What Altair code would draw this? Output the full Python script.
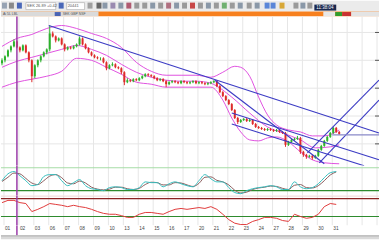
import altair as alt
import pandas as pd

W = 380
BARS_PER_DAY = 5

day_labels = ["01", "02", "03", "06", "07", "08", "09", "10", "13", "14", "15", "16",
              "17", "20", "21", "22", "23", "24", "27", "28", "29", "30", "31"]

opens = [103, 106, 110, 116, 120, 125, 119, 116, 121, 114,
         106, 90, 101, 106, 110, 114, 117, 133, 130, 126,
         128, 122, 117, 119, 118, 120, 122, 128, 122, 118,
         114, 111, 109, 108, 108, 104, 98, 101, 102, 99,
         98, 94, 84, 86, 85, 87, 86, 88, 90, 92,
         91, 90, 88, 86, 87, 85, 82, 84, 85, 84,
         83, 85, 84, 83, 84, 85, 83, 84, 83, 82,
         83, 84, 85, 80, 74, 70, 66, 62, 56, 48,
         44, 46, 47, 45, 46, 42, 39, 38, 37, 36,
         37, 36, 35, 36, 34, 33, 21, 24, 26, 27,
         28, 14, 11, 9, 10, 8, 10, 16, 20, 25,
         29, 33, 38, 34]
closes = [106, 110, 116, 120, 125, 119, 116, 121, 114, 106,
          90, 101, 106, 110, 114, 117, 133, 130, 126, 128,
          122, 117, 119, 118, 120, 122, 128, 122, 118, 114,
          111, 109, 108, 108, 104, 98, 101, 102, 99, 98,
          94, 84, 86, 85, 87, 86, 88, 90, 92, 91,
          90, 88, 86, 87, 85, 82, 84, 85, 84, 83,
          85, 84, 83, 84, 85, 83, 84, 83, 82, 83,
          84, 85, 80, 74, 70, 66, 62, 56, 48, 44,
          46, 47, 45, 46, 42, 39, 38, 37, 36, 37,
          36, 35, 36, 34, 33, 21, 24, 26, 27, 28,
          14, 11, 9, 10, 8, 10, 16, 20, 25, 29,
          33, 38, 34, 32]
highs = [108, 111, 117, 121, 127, 126, 120, 122, 122, 115,
         107, 102, 107, 111, 115, 118, 141, 135, 131, 129,
         129, 123, 120, 120, 121, 123, 130, 129, 123, 119,
         115, 112, 110, 109, 109, 105, 102, 104, 103, 100,
         99, 95, 88, 87, 88, 88, 89, 91, 93, 93,
         92, 91, 89, 88, 88, 86, 85, 86, 86, 85,
         86, 86, 85, 85, 86, 86, 85, 85, 84, 84,
         85, 86, 86, 81, 75, 71, 67, 63, 57, 49,
         47, 48, 48, 47, 47, 43, 40, 39, 38, 38,
         38, 37, 37, 37, 35, 34, 25, 27, 28, 30,
         29, 15, 12, 11, 11, 11, 17, 21, 26, 30,
         34, 39, 39, 35]
lows = [101, 104, 109, 114, 119, 118, 114, 115, 113, 104,
        84, 88, 99, 104, 109, 112, 115, 129, 124, 125,
        121, 115, 116, 117, 117, 119, 121, 121, 117, 113,
        110, 108, 107, 106, 103, 96, 97, 100, 98, 97,
        92, 81, 83, 84, 84, 85, 85, 87, 89, 90,
        89, 87, 85, 85, 84, 79, 81, 83, 83, 82,
        82, 83, 82, 82, 83, 82, 82, 82, 81, 81,
        82, 83, 79, 73, 69, 65, 61, 55, 47, 42,
        43, 45, 44, 44, 41, 38, 37, 36, 35, 35,
        35, 34, 34, 33, 32, 19, 20, 23, 25, 26,
        12, 9, 7, 8, 6, 7, 9, 15, 19, 24,
        28, 32, 33, 31]

upper_t = [0, 5, 10, 15, 20, 25, 30, 35, 40, 45, 50, 55, 60, 65, 70, 74, 78, 80, 83, 86,
           89, 92, 96, 100, 104, 108, 113]
upper = [120, 128, 132, 138, 141, 138, 133, 128, 119, 104, 95, 91, 91, 91, 89, 94, 100, 99, 90, 69,
         51, 41, 36, 34, 30, 30, 36]
mid_t = [0, 5, 10, 15, 20, 25, 30, 35, 40, 45, 50, 55, 60, 65, 70, 72, 77, 83, 89, 94,
         100, 105, 110, 113]
mid = [99, 105, 109, 113, 117, 121, 117, 111, 102, 94, 89, 86, 85, 85, 83, 80, 69, 53, 39, 33,
       26, 18, 19, 21]
lower_t = [0, 5, 10, 15, 20, 25, 30, 35, 40, 45, 50, 55, 60, 65, 70, 74, 77, 80, 83, 86,
           89, 92, 96, 100, 104, 108, 113]
lower = [79, 84, 87, 90, 95, 108, 106, 99, 92, 84, 82, 79, 79, 79, 79, 66, 48, 34, 26, 25,
         28, 29, 24, 14, 6, 3, 2]

# drawn lines: start/end in (bar index, price)
tl_t1 = [15.67, 71.33, 77.0, 77.0, 102.33, 106.33, 110.67]
tl_p1 = [141, 86, 53, 42, 13, 3, 31]
tl_t2 = [126.33, 108.0, 126.33, 121.33, 126.33, 126.33, 126.33]
tl_p2 = [33, 2, 6, 0, 86, 66, 31]
tl_kind = ["trend", "trend", "trend", "trend", "trend", "trend", "level"]

price_grid = [134, 106, 78, 50, 22]
marker_t = [5]

osc_t = list(range(0, 113, 2))
stoch_k = [46, 64, 70, 59, 46, 33, 36, 57, 62, 62, 46, 33, 41, 49, 33, 25, 23, 20, 28, 30,
           28, 23, 23, 28, 43, 41, 41, 30, 38, 43, 38, 33, 30, 46, 62, 51, 43, 43, 28, 15,
           12, 20, 25, 28, 30, 33, 30, 23, 23, 43, 30, 25, 28, 38, 54, 67, 70]
stoch_d = [44, 55, 66, 64, 52, 40, 36, 46, 58, 62, 54, 40, 38, 45, 40, 29, 24, 22, 24, 29,
           29, 25, 23, 26, 36, 42, 41, 35, 35, 41, 40, 35, 31, 39, 55, 56, 47, 43, 35, 21,
           14, 16, 23, 27, 29, 32, 31, 26, 23, 34, 36, 28, 27, 33, 46, 61, 69]
rsi = [61, 66, 66, 61, 59, 41, 46, 52, 59, 57, 55, 52, 55, 52, 50, 46, 41, 37, 35, 35,
       32, 28, 28, 35, 39, 39, 37, 35, 41, 46, 48, 46, 48, 50, 48, 52, 46, 35, 23, 15,
       12, 12, 19, 23, 28, 28, 26, 21, 19, 35, 30, 26, 28, 35, 52, 59, 57]
stoch_levels = [80, 20]
rsi_levels = [70, 30]

# ---------------- styling ----------------
GRID = "#e6e6e6"
BAND = "#e052e0"
TREND = "#3c3cc4"
LEVEL_H = "#8a8ac8"
MARKER = "#9a3aa8"
GREEN = "#2cb22c"
RED = "#de2a2a"

X_SCALE = alt.Scale(domain=[-1 / 3, 126 + 1 / 3], nice=False, zero=False)
P_SCALE = alt.Scale(domain=[0, 150], nice=False, zero=False)
S_SCALE = alt.Scale(domain=[7, 85.2], nice=False, zero=False)
R_SCALE = alt.Scale(domain=[10, 76.7], nice=False, zero=False)


def X(field):
    return alt.X(field, type="quantitative", scale=X_SCALE, axis=None)


def Y(field, scale):
    return alt.Y(field, type="quantitative", scale=scale, axis=None)


one = pd.DataFrame({"a": [0]})

candles = pd.DataFrame({"t": list(range(len(closes))), "open": opens, "close": closes,
                        "high": highs, "low": lows})
candles["dir"] = ["up" if c >= o else "down" for o, c in zip(opens, closes)]
bands = pd.concat([
    pd.DataFrame({"t": upper_t, "v": upper, "band": "upper"}),
    pd.DataFrame({"t": mid_t, "v": mid, "band": "mid"}),
    pd.DataFrame({"t": lower_t, "v": lower, "band": "lower"}),
])
tlines = pd.DataFrame({"t1": tl_t1, "p1": tl_p1, "t2": tl_t2, "p2": tl_p2, "kind": tl_kind})
days = pd.DataFrame({"t": [BARS_PER_DAY * i + 1 for i in range(len(day_labels))],
                     "label": day_labels})
vgrid = pd.DataFrame({"t": [BARS_PER_DAY * i + 2 / 3 for i in range(26)]})
hgrid = pd.DataFrame({"p": price_grid})
marker = pd.DataFrame({"t": marker_t})
osc = pd.DataFrame({"t": osc_t, "k": stoch_k, "d": stoch_d, "rsi": rsi})
slev = pd.DataFrame({"v": stoch_levels, "c": ["#a6dca6", "#2e8b2e"]})
rlev = pd.DataFrame({"v": rsi_levels, "c": ["#8b2222", "#2e8b2e"]})

vgrid_layer = alt.Chart(vgrid).mark_rule(color=GRID, strokeWidth=1).encode(x=X("t"))
marker_layer = alt.Chart(marker).mark_rule(color=MARKER, strokeWidth=1.5).encode(x=X("t"))


def box(x0, x1, y0, y1, fill, stroke=None):
    kw = {"fill": fill}
    if stroke:
        kw.update({"stroke": stroke, "strokeWidth": 0.5})
    return alt.Chart(one).mark_rect(**kw).encode(
        x=alt.value(x0), x2=alt.value(x1), y=alt.value(y0), y2=alt.value(y1))


def label(x, y, txt, color, size=4.5):
    return alt.Chart(one).mark_text(text=txt, align="left", baseline="middle",
                                     fontSize=size, color=color, font="Liberation Sans").encode(
        x=alt.value(x), y=alt.value(y))


# ---------------- toolbar ----------------
icons = [(1, 6, "#97a3b3"), (8, 13, "#8a8a8a"), (16, 21, "#4a68b8"), (58, 63, "#4a68b8"),
         (87, 92, "#a0a0a0"), (96, 101, "#666666"), (102, 107, "#8a98a8"), (110, 115, "#9a8ab0"),
         (118, 123, "#8a98a8"), (126, 131, "#b05a70"), (134, 139, "#9a9a9a"), (142, 147, "#9a9a9a"),
         (150, 155, "#8a98a8"), (158, 163, "#9a9a9a"), (166, 171, "#b07080"), (174, 179, "#8a98a8"),
         (182, 187, "#9a9a9a"), (190, 195, "#c84848"), (198, 203, "#9a9a9a"), (206, 211, "#8a98a8"),
         (214, 219, "#9a9a9a"), (222, 227, "#70b070"), (230, 235, "#9a9a9a"), (238, 243, "#8a98a8"),
         (247, 252, "#9a9a9a"), (255, 260, "#8a98a8"), (265, 270, "#5a86d8"), (271, 276, "#5a86d8"),
         (280, 285, "#d8a838"), (294, 299, "#9a9a9a"), (301, 306, "#8a98a8"), (308, 313, "#9a9a9a")]
tb_layers = [box(a, b, 2, 8, c) for a, b, c in icons]
tb_layers += [box(25, 55, 2, 9, "#ffffff", "#9a9a9a"), label(26, 5.5, "SEK 26.89 +0.42", "#555555", 4),
              box(66, 84, 2, 9, "#ffffff", "#9a9a9a"), label(67, 5.5, "20441", "#555555", 4),
              box(315, 337, 4, 10, "#1b2950"), label(317, 7, "11:38:04", "#ffffff", 4.5)]
toolbar = alt.layer(*tb_layers).properties(
    width=W, height=11, view=alt.ViewBackground(fill="#ebebeb", strokeWidth=0))

tabs = alt.layer(
    box(0, 98, 0, 5, "#dadada"),
    box(54, 60, 0.5, 4.5, "#4a64b4"),
    label(2, 2.5, "Ai   5L   LBL", "#555555", 3.5),
    label(62, 2.5, "SEK GBP NSF", "#555555", 3.5),
    box(324, 336, 0, 5, "#e8e8e8"),
    box(336, 343, 0.5, 4.5, "#2e9e2e"),
    box(343, 352, 0.5, 4.5, "#c83232"),
    box(352, 380, 0, 5, "#e4e4e4"),
).properties(width=W, height=5, view=alt.ViewBackground(fill="#f7801e", strokeWidth=0))

# ---------------- price panel ----------------
dir_color = alt.Color("dir:N", scale=alt.Scale(domain=["up", "down"], range=[GREEN, RED]), legend=None)
price = alt.layer(
    vgrid_layer,
    alt.Chart(hgrid).mark_rule(color=GRID).encode(y=Y("p", P_SCALE)),
    alt.Chart(hgrid).mark_rule(color="#555555").encode(y=Y("p", P_SCALE), x=alt.value(376), x2=alt.value(380)),
    alt.Chart(bands).mark_line(color=BAND, strokeWidth=1, interpolate="monotone", clip=True).encode(
        x=X("t"), y=Y("v", P_SCALE), detail="band:N"),
    alt.Chart(candles).mark_rule(strokeWidth=1).encode(x=X("t"), y=Y("low", P_SCALE), y2="high", color=dir_color),
    alt.Chart(candles).mark_rule(strokeWidth=2).encode(x=X("t"), y=Y("open", P_SCALE), y2="close", color=dir_color),
    alt.Chart(tlines).transform_filter(alt.datum.kind == "trend").mark_rule(
        color=TREND, strokeWidth=1.1, clip=True).encode(
        x=X("t1"), x2="t2", y=Y("p1", P_SCALE), y2="p2"),
    alt.Chart(tlines).transform_filter(alt.datum.kind == "level").mark_rule(
        color=LEVEL_H, strokeWidth=1.1, clip=True).encode(
        x=X("t1"), x2="t2", y=Y("p1", P_SCALE), y2="p2"),
    marker_layer,
).properties(width=W, height=150, view=alt.ViewBackground(fill="#ffffff", strokeWidth=0))

# ---------------- oscillators ----------------
osc1 = alt.layer(
    vgrid_layer,
    alt.Chart(slev).mark_rule(strokeWidth=1.2).encode(
        y=Y("v", S_SCALE), color=alt.Color("c:N", scale=None)),
    alt.Chart(osc).mark_line(color="#8a5c5c", strokeWidth=1, interpolate="monotone", clip=True).encode(
        x=X("t"), y=Y("d", S_SCALE)),
    alt.Chart(osc).mark_line(color="#35bdbd", strokeWidth=1, interpolate="monotone", clip=True).encode(
        x=X("t"), y=Y("k", S_SCALE)),
    marker_layer,
).properties(width=W, height=30, view=alt.ViewBackground(fill="#ffffff", strokeWidth=0))

osc2 = alt.layer(
    vgrid_layer,
    alt.Chart(one).mark_rule(color="#f0d6d6").encode(y=alt.value(0.5)),
    alt.Chart(rlev).mark_rule(strokeWidth=1.2).encode(
        y=Y("v", R_SCALE), color=alt.Color("c:N", scale=None)),
    alt.Chart(osc).mark_line(color="#e03a3a", strokeWidth=1, clip=True).encode(
        x=X("t"), y=Y("rsi", R_SCALE)),
    marker_layer,
).properties(width=W, height=30, view=alt.ViewBackground(fill="#ffffff", strokeWidth=0))

axis_row = alt.layer(
    alt.Chart(days).mark_text(align="left", baseline="middle", fontSize=4.8, color="#444444",
                              font="Liberation Sans").encode(x=X("t"), y=alt.value(4), text="label:N"),
    marker_layer,
).properties(width=W, height=10, view=alt.ViewBackground(fill="#ffffff", strokeWidth=0))

scroll = alt.Chart(one).mark_rule(color="#a8a8a8").encode(
    x=alt.value(0), x2=alt.value(W), y=alt.value(0.5)
).properties(width=W, height=4, view=alt.ViewBackground(fill="#d9d9d9", strokeWidth=0))

chart = alt.VConcatChart(
    vconcat=[toolbar, tabs, price, osc1, osc2, axis_row, scroll],
    spacing=0, bounds="flush", padding=0, background="#ffffff",
).configure_view(strokeWidth=0)

chart.save("out.html", embed_options={"renderer": "svg", "actions": False})
